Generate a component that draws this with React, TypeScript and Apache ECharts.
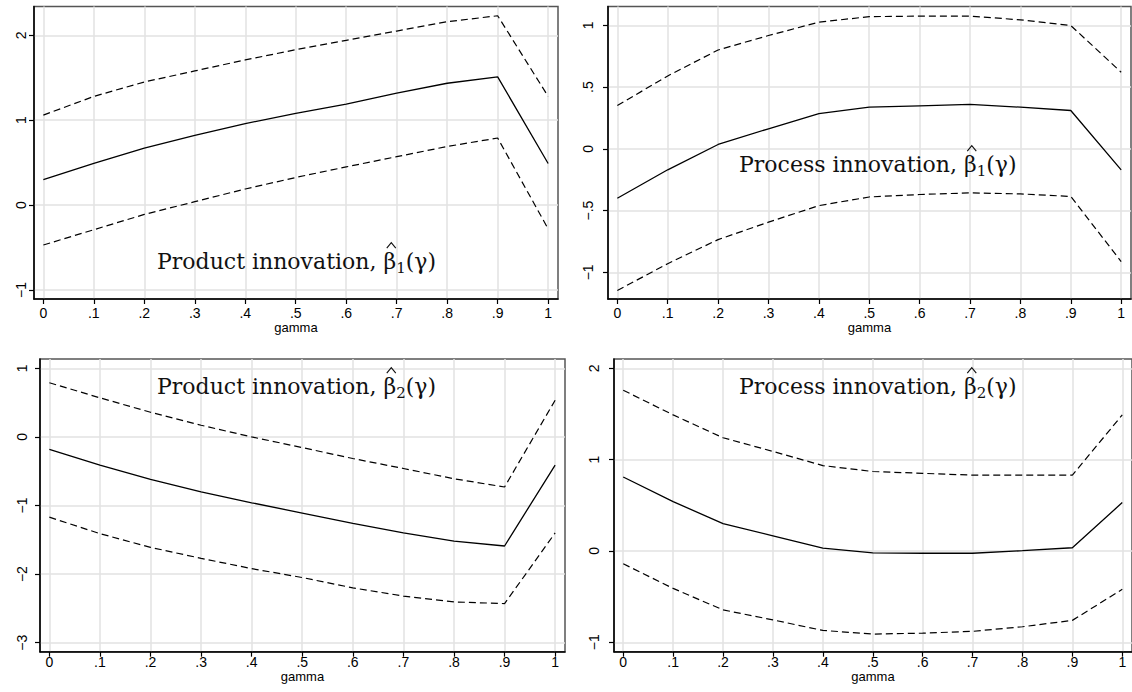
import React, { useEffect, useRef } from "react";
import * as echarts from "echarts";

// ---------- data ----------
const gamma = [0, 0.1, 0.2, 0.3, 0.4, 0.5, 0.6, 0.7, 0.8, 0.9, 1];
const gammaTicks = [0, 0.1, 0.2, 0.3, 0.4, 0.5, 0.6, 0.7, 0.8, 0.9, 1];

// Product innovation, beta1
const prodB1 = [0.3, 0.49, 0.67, 0.82, 0.96, 1.08, 1.19, 1.32, 1.435, 1.51, 0.49];
const prodB1Upper = [1.06, 1.28, 1.45, 1.58, 1.71, 1.83, 1.94, 2.05, 2.16, 2.23, 1.28];
const prodB1Lower = [-0.47, -0.29, -0.11, 0.04, 0.19, 0.325, 0.45, 0.57, 0.69, 0.79, -0.28];
const yTicksP1 = [-1, 0, 1, 2];

// Process innovation, beta1
const procB1 = [-0.4, -0.17, 0.035, 0.162, 0.285, 0.337, 0.348, 0.359, 0.337, 0.31, -0.17];
const procB1Upper = [0.35, 0.59, 0.8, 0.917, 1.025, 1.07, 1.074, 1.074, 1.044, 0.998, 0.62];
const procB1Lower = [-1.147, -0.93, -0.735, -0.594, -0.46, -0.39, -0.37, -0.357, -0.365, -0.386, -0.913];
const yTicksP2 = [-1, -0.5, 0, 0.5, 1];

// Product innovation, beta2
const prodB2 = [-0.18, -0.41, -0.62, -0.8, -0.96, -1.11, -1.26, -1.4, -1.52, -1.59, -0.41];
const prodB2Upper = [0.79, 0.57, 0.36, 0.17, 0.0, -0.155, -0.315, -0.46, -0.61, -0.73, 0.535];
const prodB2Lower = [-1.17, -1.41, -1.61, -1.77, -1.92, -2.05, -2.2, -2.32, -2.405, -2.43, -1.4];
const yTicksP3 = [-3, -2, -1, 0, 1];

// Process innovation, beta2
const procB2 = [0.81, 0.54, 0.3, 0.165, 0.03, -0.02, -0.025, -0.025, 0.003, 0.035, 0.53];
const procB2Upper = [1.76, 1.49, 1.24, 1.09, 0.935, 0.87, 0.85, 0.83, 0.83, 0.83, 1.49];
const procB2Lower = [-0.14, -0.41, -0.645, -0.755, -0.87, -0.91, -0.9, -0.88, -0.83, -0.76, -0.42];
const yTicksP4 = [-1, 0, 1, 2];

const prefixProd = "Product innovation, ";
const prefixProc = "Process innovation, ";
const betaSym = "\u03B2";
const argText = "(\u03B3)";

// ---------- helpers ----------
function fmt(v: number): string {
  if (Math.abs(v) < 1e-9) return "0";
  const a = Math.round(Math.abs(v) * 1000) / 1000;
  const s = String(a).replace(/^0\./, ".");
  return (v < 0 ? "\u2212" : "") + s;
}

const pairs = (ys: number[]) => gamma.map((g, i) => [g, ys[i]]);

interface Panel {
  grid: { left: number; top: number; width: number; height: number };
  yMin: number;
  yMax: number;
  yTicks: number[];
  yMargin: number;
  xMargin: number;
  nameGap: number;
  mid: number[];
  up: number[];
  lo: number[];
  prefix: string;
  sub: string;
  titleLeft: number;
  titleTop: number;
}

const panels: Panel[] = [
  {
    grid: { left: 34, top: 6.5, width: 524, height: 292.5 },
    yMin: -1.106, yMax: 2.339, yTicks: yTicksP1, yMargin: 6, xMargin: 7, nameGap: 20,
    mid: prodB1, up: prodB1Upper, lo: prodB1Lower,
    prefix: prefixProd, sub: "1", titleLeft: 157, titleTop: 247,
  },
  {
    grid: { left: 608, top: 6.5, width: 523, height: 292.5 },
    yMin: -1.216, yMax: 1.152, yTicks: yTicksP2, yMargin: 13, xMargin: 7, nameGap: 20,
    mid: procB1, up: procB1Upper, lo: procB1Lower,
    prefix: prefixProc, sub: "1", titleLeft: 739, titleTop: 150,
  },
  {
    grid: { left: 40, top: 359, width: 525, height: 292.7 },
    yMin: -3.131, yMax: 1.136, yTicks: yTicksP3, yMargin: 11, xMargin: 3, nameGap: 17,
    mid: prodB2, up: prodB2Upper, lo: prodB2Lower,
    prefix: prefixProd, sub: "2", titleLeft: 157, titleTop: 372,
  },
  {
    grid: { left: 614, top: 359, width: 524, height: 292.7 },
    yMin: -1.103, yMax: 2.102, yTicks: yTicksP4, yMargin: 13, xMargin: 3, nameGap: 17,
    mid: procB2, up: procB2Upper, lo: procB2Lower,
    prefix: prefixProc, sub: "2", titleLeft: 739, titleTop: 372,
  },
];

const labelFont = "Liberation Sans";
const serif = "DejaVu Serif";
const titleSize = 22;

function measure(text: string, font: string): number {
  const c = document.createElement("canvas");
  const ctx = c.getContext("2d");
  if (!ctx) return text.length * 11;
  ctx.font = font;
  return ctx.measureText(text).width;
}

function buildOption() {
  const grid: any[] = [];
  const xAxis: any[] = [];
  const yAxis: any[] = [];
  const series: any[] = [];
  const title: any[] = [];
  const graphic: any[] = [];
  const fontStr = `${titleSize}px "${serif}"`;

  panels.forEach((p, i) => {
    grid.push({
      ...p.grid,
      show: true,
      borderColor: "#555",
      borderWidth: 1.5,
      backgroundColor: "#fff",
      containLabel: false,
    });
    xAxis.push({
      type: "value",
      gridIndex: i,
      min: -0.0185,
      max: 1.0195,
      name: "gamma",
      nameLocation: "middle",
      nameGap: p.nameGap,
      nameTextStyle: { fontFamily: labelFont, fontSize: 13, color: "#000" },
      axisLine: { show: true, onZero: false, lineStyle: { color: "#000", width: 1.5 } },
      axisTick: { show: true, length: 5, customValues: gammaTicks, lineStyle: { color: "#000", width: 1.2 } },
      axisLabel: {
        customValues: gammaTicks,
        formatter: (v: number) => fmt(v),
        fontFamily: labelFont,
        fontSize: 14,
        color: "#000",
        margin: p.xMargin,
      },
      splitLine: { show: true, lineStyle: { color: "#e2e2e2", width: 1.5 } },
    });
    yAxis.push({
      type: "value",
      gridIndex: i,
      min: p.yMin,
      max: p.yMax,
      axisLine: { show: true, onZero: false, lineStyle: { color: "#000", width: 1.5 } },
      axisTick: { show: true, length: 5, customValues: p.yTicks, lineStyle: { color: "#000", width: 1.2 } },
      axisLabel: {
        customValues: p.yTicks,
        formatter: (v: number) => fmt(v),
        rotate: 90,
        fontFamily: labelFont,
        fontSize: 14,
        color: "#000",
        margin: p.yMargin,
      },
      splitLine: { show: true, lineStyle: { color: "#e2e2e2", width: 1.5 } },
    });
    const common = {
      type: "line",
      xAxisIndex: i,
      yAxisIndex: i,
      symbol: "none",
      showSymbol: false,
      silent: true,
      z: 3,
    };
    series.push({ ...common, name: `up${i}`, data: pairs(p.up), lineStyle: { color: "#000", width: 1.2, type: [7, 4] } });
    series.push({ ...common, name: `mid${i}`, data: pairs(p.mid), lineStyle: { color: "#000", width: 1.3, type: "solid" } });
    series.push({ ...common, name: `lo${i}`, data: pairs(p.lo), lineStyle: { color: "#000", width: 1.2, type: [7, 4] } });
    title.push({
      text: `{t|${p.prefix}}{t|${betaSym}}{s|${p.sub}}{t|${argText}}`,
      left: p.titleLeft,
      top: p.titleTop,
      padding: 0,
      z: 10,
      textStyle: {
        fontWeight: "normal",
        rich: {
          t: { fontFamily: serif, fontSize: titleSize, fontWeight: "normal", color: "#111", lineHeight: 28 },
          s: { fontFamily: serif, fontSize: 15, fontWeight: "normal", color: "#111", lineHeight: 15, verticalAlign: "bottom" },
        },
      },
    });
    // circumflex accent over beta, drawn as a small wedge
    const prefixW = measure(p.prefix, fontStr);
    const betaW = measure(betaSym, fontStr);
    const baseline = p.titleTop + 21.6;
    const cx = p.titleLeft + prefixW + betaW / 2 + 1.5;
    graphic.push({
      type: "polyline",
      z: 11,
      silent: true,
      shape: {
        points: [
          [cx - 4.5, baseline - 20.5],
          [cx, baseline - 26],
          [cx + 4.5, baseline - 20.5],
        ],
      },
      style: { stroke: "#111", lineWidth: 1.1, fill: "none" },
    });
  });

  return {
    animation: false,
    backgroundColor: "#fff",
    grid,
    xAxis,
    yAxis,
    series,
    title,
    graphic,
  };
}

export default function App() {
  const ref = useRef<HTMLDivElement>(null);
  useEffect(() => {
    if (!ref.current) return;
    const chart = echarts.init(ref.current, undefined, { renderer: "svg" });
    chart.setOption(buildOption() as any);
    return () => chart.dispose();
  }, []);
  return (
    <div
      ref={ref}
      style={{ position: "absolute", left: 0, top: 0, width: 1132, height: 692, background: "#fff" }}
    />
  );
}
